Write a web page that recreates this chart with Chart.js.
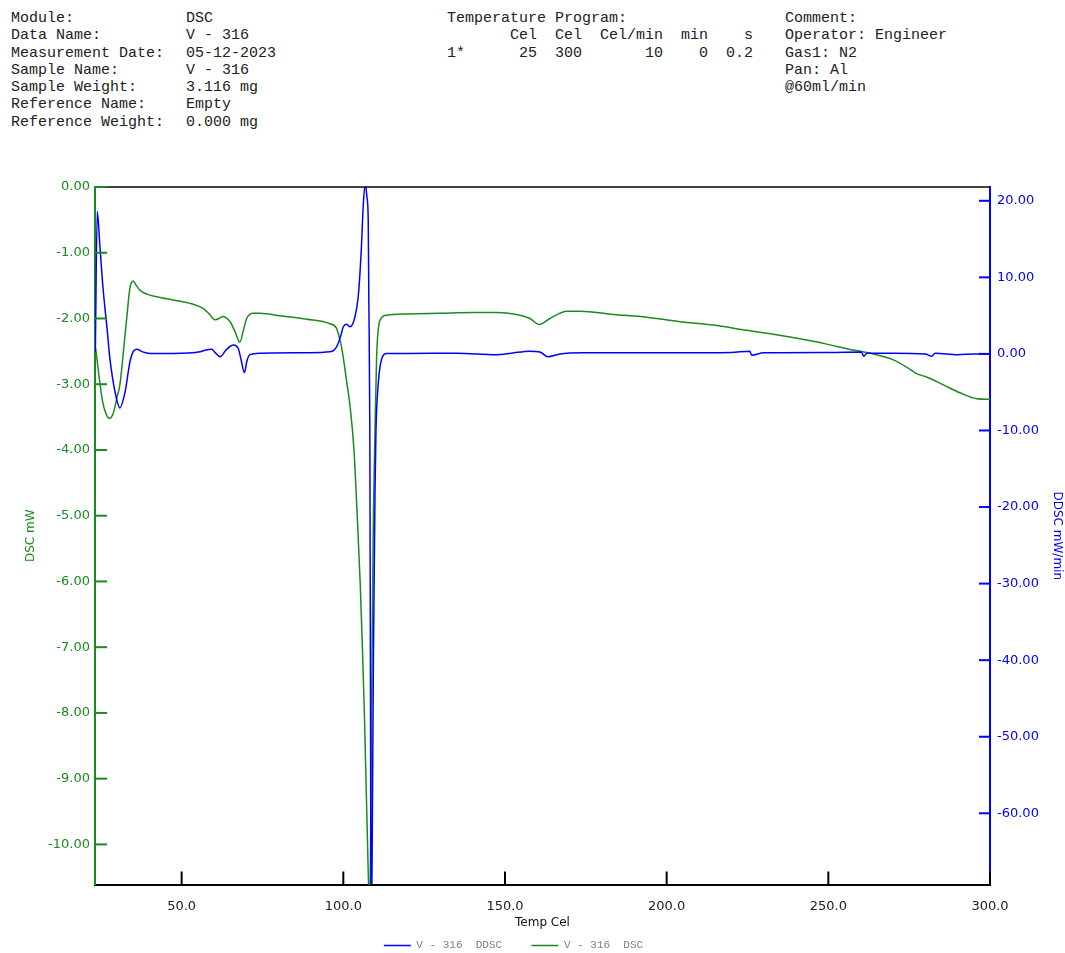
<!DOCTYPE html>
<html lang="en">
<head>
<meta charset="UTF-8">
<title>DSC V - 316</title>
<script src="https://cdn.jsdelivr.net/npm/chart.js"></script>
<style>
  html, body { margin: 0; padding: 0; background: #fff; overflow: hidden; width: 1065px; height: 953px; }
  pre.head { position: absolute; margin: 0; font-family: "Liberation Mono", monospace; font-size: 15px; line-height: 17.3px; color: #222; }
  #wrap { position: absolute; left: -38px; top: 0; width: 1103px; height: 961px; }
</style>
</head>
<body>
<pre class="head" style="left:11px; top:10px;">Module:
Data Name:
Measurement Date:
Sample Name:
Sample Weight:
Reference Name:
Reference Weight:</pre>
<pre class="head" style="left:186px; top:10px;">DSC
V - 316
05-12-2023
V - 316
3.116 mg
Empty
0.000 mg</pre>
<pre class="head" style="left:447px; top:10px;">Temperature Program:
       Cel  Cel  Cel/min  min    s
1*      25  300       10    0  0.2</pre>
<pre class="head" style="left:785px; top:10px;">Comment:
Operator: Engineer
Gas1: N2
Pan: Al
@60ml/min</pre>
<div id="wrap"><canvas id="dscChart"></canvas></div>
<script>
  // values
  const dscTemp = [23.4, 24.5, 25.5, 26.6, 27.6, 28.8, 30.0, 30.9, 32.0, 33.0, 34.0, 35.0, 36.0, 37.1, 39.2, 42.3, 47.4, 52.6, 56.7, 58.5,
    60.3, 61.5, 62.9, 64.0, 65.0, 66.5, 68.0, 69.0, 70.1, 72.2, 74.2, 80.4, 88.7, 95.9, 97.9, 99.2, 100.0, 101.0, 102.0, 103.3,
    104.3, 105.2, 105.9, 106.5, 107.0, 107.5, 108.0, 108.2, 108.5, 108.9, 109.3, 109.8, 110.3, 111.4, 113.4, 120, 130, 140, 147.4, 153.6,
    157.7, 160.6, 163.9, 169.1, 173.2, 183.5, 193.8, 204.1, 214.4, 224.7, 233.0, 241.2, 249.5, 255.7, 263.9, 270.1, 274.2, 277.3, 280.4, 285.6,
    290.7, 295.9, 300];
  const dscValue = [-2.45, -2.9, -3.25, -3.45, -3.52, -3.45, -3.2, -3.01, -2.5, -2.0, -1.54, -1.43, -1.5, -1.57, -1.63, -1.67, -1.72, -1.77, -1.85, -1.93,
    -2.02, -2.0, -1.97, -2.0, -2.05, -2.2, -2.36, -2.2, -2.0, -1.92, -1.92, -1.96, -2.01, -2.08, -2.15, -2.38, -2.6, -2.95, -3.3, -4.0,
    -5.0, -6.0, -7.0, -8.0, -9.0, -10.0, -11.0, -11.2, -9.5, -7.0, -5.0, -3.7, -2.58, -2.02, -1.95, -1.93, -1.92, -1.91, -1.91, -1.94,
    -2.0, -2.09, -2.0, -1.89, -1.89, -1.94, -1.98, -2.05, -2.10, -2.18, -2.24, -2.31, -2.39, -2.46, -2.54, -2.63, -2.74, -2.84, -2.89, -3.01,
    -3.13, -3.22, -3.23];

  const ddscTemp = [23.3, 23.9, 24.7, 25.6, 27.0, 27.8, 29.4, 30.9, 32.5, 34.0, 35.0, 36.1, 37.7, 40.2, 47.4, 55.7, 57.2, 59.3, 60.3, 61.9,
    63.7, 66.0, 67.5, 68.4, 69.4, 70.2, 71.1, 74.2, 88.7, 95.9, 97.4, 98.4, 99.3, 100.0, 101.0, 102.1, 103.6, 104.6, 105.5, 106.2,
    106.8, 107.3, 107.7, 107.9, 108.2, 108.4, 108.6, 108.9, 109.3, 109.8, 110.1, 110.8, 111.9, 113.4, 120, 135, 147.4, 152, 157.6, 160.8,
    163.3, 167, 174, 200, 220, 225.7, 226.3, 230, 250, 260.2, 261, 262, 270, 280, 282, 283, 290, 295, 300];
  const ddscValue = [0.2, 18.6, 14.2, 9.0, 3.0, -0.59, -4.96, -7.05, -4.96, -1.04, 0.3, 0.62, 0.3, 0.06, 0.06, 0.27, 0.49, 0.6, 0.2, -0.38,
    0.5, 1.15, 0.71, -0.8, -2.45, -0.9, -0.1, 0.1, 0.15, 0.27, 0.6, 1.37, 2.5, 3.54, 3.89, 3.54, 4.85, 7.46, 13.13, 19.67,
    22.2, 20.5, 17.5, 6.6, -10, -45, -75, -66, -40, -18, -10, -3.86, -0.59, 0.06, 0.05, 0.1, -0.1, 0.1, 0.35, 0.25,
    -0.38, 0.0, 0.15, 0.15, 0.2, 0.35, -0.16, 0.15, 0.2, 0.25, -0.3, 0.1, 0.1, 0.0, -0.3, 0.1, -0.1, 0.0, 0.0];

  const tempTicks = [50, 100, 150, 200, 250, 300];
  const dscTicks = [0, -1, -2, -3, -4, -5, -6, -7, -8, -9, -10];
  const ddscTicks = [20, 10, 0, -10, -20, -30, -40, -50, -60];

  const GREEN = '#1c8a1c';
  const BLUE = '#0000ff';
  const tickFont = { family: 'DejaVu Sans', size: 13 };
  const titleFont = { family: 'DejaVu Sans', size: 12 };

  function toPoints(xs, ys) {
    return xs.map((x, i) => ({ x: x, y: ys[i] }));
  }

  // tick marks pointing into the plot + black top frame line
  const innerTicks = {
    id: 'innerTicks',
    afterDraw(chart) {
      const { ctx, chartArea: a, scales } = chart;
      ctx.save();
      ctx.lineWidth = 1.5;
      ctx.strokeStyle = '#000';
      ctx.beginPath(); ctx.moveTo(a.left, a.top); ctx.lineTo(a.right, a.top); ctx.stroke();
      ctx.lineWidth = 2;
      scales.x.ticks.forEach(t => {
        const px = scales.x.getPixelForValue(t.value);
        ctx.beginPath(); ctx.moveTo(px, a.bottom); ctx.lineTo(px, a.bottom - 13); ctx.stroke();
      });
      ctx.strokeStyle = GREEN;
      scales.y.ticks.forEach(t => {
        const py = scales.y.getPixelForValue(t.value);
        ctx.beginPath(); ctx.moveTo(a.left, py); ctx.lineTo(a.left + 12, py); ctx.stroke();
      });
      ctx.strokeStyle = BLUE;
      scales.y1.ticks.forEach(t => {
        const py = scales.y1.getPixelForValue(t.value);
        ctx.beginPath(); ctx.moveTo(a.right - 11, py); ctx.lineTo(a.right, py); ctx.stroke();
      });
      ctx.restore();
    }
  };

  const chart = new Chart(document.getElementById('dscChart'), {
    type: 'line',
    data: {
      datasets: [{
        label: 'V - 316  DDSC   ',
        data: toPoints(ddscTemp, ddscValue),
        yAxisID: 'y1',
        borderColor: BLUE,
        borderWidth: 1.5,
        pointRadius: 0,
        cubicInterpolationMode: 'monotone'
      }, {
        label: 'V - 316  DSC',
        data: toPoints(dscTemp, dscValue),
        yAxisID: 'y',
        borderColor: GREEN,
        borderWidth: 1.5,
        pointRadius: 0,
        cubicInterpolationMode: 'monotone'
      }]
    },
    options: {
      responsive: true,
      maintainAspectRatio: false,
      animation: false,
      layout: { padding: { top: 187, left: 0, right: 0, bottom: 0 } },
      plugins: {
        tooltip: { enabled: false },
        legend: {
          position: 'bottom',
          labels: {
            usePointStyle: true,
            pointStyle: 'line',
            pointStyleWidth: 27,
            padding: 9.5,
            color: '#808080',
            font: { family: 'Liberation Mono', size: 11 }
          }
        }
      },
      scales: {
        x: {
          type: 'linear',
          position: 'bottom',
          min: 23.2,
          max: 300,
          afterBuildTicks: s => { s.ticks = tempTicks.map(v => ({ value: v })); },
          afterFit: s => { s.height = 46; },
          ticks: { callback: v => v.toFixed(1), color: '#222', font: tickFont, padding: 14, maxRotation: 0, autoSkip: false },
          grid: { display: false, drawTicks: false },
          border: { display: true, color: '#000', width: 2 },
          title: { display: true, text: 'Temp Cel', color: '#111', font: titleFont, padding: { top: 0, bottom: 0 } }
        },
        y: {
          type: 'linear',
          position: 'left',
          min: -10.61,
          max: 0,
          afterBuildTicks: s => { s.ticks = dscTicks.map(v => ({ value: v })); },
          afterFit: s => { s.width = 133; },
          ticks: { callback: v => v.toFixed(2), color: GREEN, font: tickFont, padding: 5, autoSkip: false },
          grid: { display: false, drawTicks: false },
          border: { display: true, color: GREEN, width: 2 },
          title: { display: true, text: 'DSC mW', color: GREEN, font: titleFont, padding: { top: 62, bottom: 0 } }
        },
        y1: {
          type: 'linear',
          position: 'right',
          min: -69.3,
          max: 21.8,
          afterBuildTicks: s => { s.ticks = ddscTicks.map(v => ({ value: v })); },
          afterFit: s => { s.width = 75; },
          ticks: { callback: v => v.toFixed(2), color: BLUE, font: tickFont, padding: 7, autoSkip: false },
          grid: { display: false, drawTicks: false },
          border: { display: true, color: BLUE, width: 2 },
          title: { display: true, text: 'DDSC mW/min', color: BLUE, font: titleFont, padding: { top: 1, bottom: 0 } }
        }
      }
    },
    plugins: [innerTicks]
  });
</script>
</body>
</html>
